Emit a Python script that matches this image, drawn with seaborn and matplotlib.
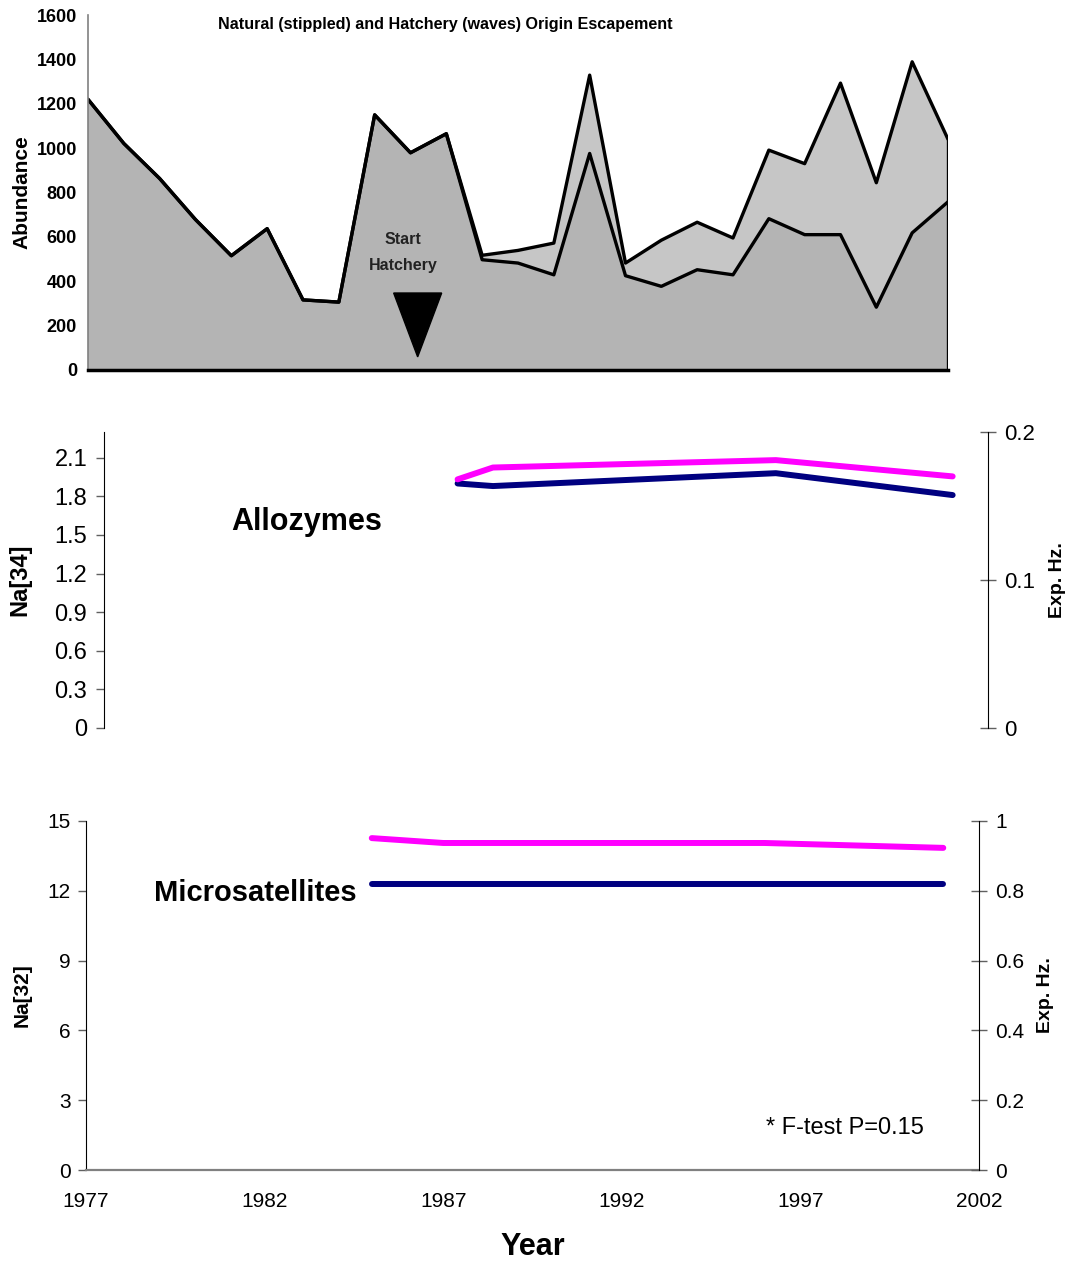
import matplotlib
matplotlib.use("Agg")
import matplotlib.pyplot as plt
from matplotlib.patches import Polygon
import numpy as np
import pandas as pd
import seaborn as sns

# ---------------- data ----------------
years = list(range(1977, 2002))
natural = [1220, 1021, 863, 678, 515, 637, 316, 306, 1150, 979, 1065,
           497, 482, 429, 976, 425, 377, 452, 429, 682, 610, 610, 283, 618, 758]
total = [1220, 1021, 863, 678, 515, 637, 316, 306, 1150, 979, 1065,
         517, 539, 572, 1329, 482, 585, 666, 595, 991, 930, 1293, 844, 1389, 1040]
hatchery = [t - n for t, n in zip(total, natural)]

allo_years = [1987, 1988, 1996, 2001]
allo_na = [1.90, 1.88, 1.98, 1.81]
allo_hz = [0.168, 0.176, 0.181, 0.170]

micro_years = [1985, 1987, 1996, 2001]
micro_na = [12.3, 12.3, 12.3, 12.3]
micro_hz = [0.951, 0.937, 0.937, 0.923]

hatch_start = 1986.2

# ---------------- style ----------------
sns.set_style("white")
plt.rcParams['font.family'] = ['Liberation Sans', 'DejaVu Sans']
for k in ['text.color', 'axes.labelcolor', 'xtick.color', 'ytick.color']:
    plt.rcParams[k] = 'black'

PINK = '#FF00FF'
NAVY = '#000080'
LW = 4.3

fig = plt.figure(figsize=(10.70, 12.62), dpi=100)
W, H = 1070.0, 1262.0

def pos(l, t, r, b):
    return [l / W, 1 - b / H, (r - l) / W, (b - t) / H]

def center_ylabel(ax, x):
    ax.yaxis.label.set_va('center')
    ax.yaxis.set_label_coords(x, 0.5)

# ---------------- top panel ----------------
ax0 = fig.add_axes(pos(88, 15, 948, 370))
df_top = pd.DataFrame({'Year': years, 'Natural': natural, 'Hatchery': hatchery})
df_top['Total'] = df_top['Natural'] + df_top['Hatchery']
ax0.fill_between(df_top['Year'], df_top['Natural'], df_top['Total'],
                 facecolor='#c6c6c6', edgecolor='none')
ax0.fill_between(df_top['Year'], 0, df_top['Natural'],
                 facecolor='#b4b4b4', edgecolor='none')
sns.lineplot(data=df_top, x='Year', y='Total', ax=ax0, color='black', lw=2.4)
sns.lineplot(data=df_top, x='Year', y='Natural', ax=ax0, color='black', lw=2.4)
ax0.plot([years[-1], years[-1]], [0, total[-1]], color='black', lw=2.4)
ax0.set_xlim(1977, 2001)
ax0.set_ylim(0, 1600)
ax0.set_yticks(range(0, 1601, 200))
ax0.set_xticks([])
for s in ['top', 'right']:
    ax0.spines[s].set_visible(False)
ax0.spines['left'].set_color('#808080')
ax0.spines['left'].set_linewidth(1.2)
ax0.spines['bottom'].set_color('black')
ax0.spines['bottom'].set_linewidth(2.5)
ax0.tick_params(axis='y', direction='out', length=5, width=1, color='#808080', pad=3)
for lab in ax0.get_yticklabels():
    lab.set_fontweight('bold')
    lab.set_fontsize(13)
ax0.set_xlabel('')
ax0.set_ylabel('Abundance', fontsize=15, fontweight='bold')
center_ylabel(ax0, -0.077)
ax0.text(1986.96, 1559, 'Natural (stippled) and Hatchery (waves) Origin Escapement',
         ha='center', va='center', fontsize=11.6, fontweight='bold')
ax0.text(hatch_start - 0.4, 586, 'Start', ha='center', va='center',
         fontsize=11.5, fontweight='bold', color='#222222')
ax0.text(hatch_start - 0.4, 473, 'Hatchery', ha='center', va='center',
         fontsize=11.5, fontweight='bold', color='#222222')
ax0.add_patch(Polygon([[hatch_start - 0.67, 347], [hatch_start + 0.67, 347],
                       [hatch_start, 59]], closed=True, facecolor='black',
                      edgecolor='black'))

# ---------------- middle panel (Allozymes) ----------------
ax1 = fig.add_axes(pos(104, 432, 988, 728))
ax1r = ax1.twinx()
df_allo = pd.DataFrame({'Year': allo_years, 'Na': allo_na, 'Hz': allo_hz})
sns.lineplot(data=df_allo, x='Year', y='Na', ax=ax1, color=NAVY, lw=LW,
             solid_capstyle='round')
sns.lineplot(data=df_allo, x='Year', y='Hz', ax=ax1r, color=PINK, lw=LW,
             solid_capstyle='round')
ax1.set_xlim(1977, 2002)
ax1.set_ylim(0, 2.3)
ax1r.set_ylim(0, 0.2)
ax1.set_yticks(np.arange(0, 2.2, 0.3))
ax1.set_yticklabels(['0', '0.3', '0.6', '0.9', '1.2', '1.5', '1.8', '2.1'])
ax1r.set_yticks([0, 0.1, 0.2])
ax1r.set_yticklabels(['0', '0.1', '0.2'])
ax1.set_xticks([])
for a in (ax1, ax1r):
    for s in ['top', 'bottom']:
        a.spines[s].set_visible(False)
ax1.spines['right'].set_visible(False)
ax1r.spines['left'].set_visible(False)
ax1.spines['left'].set_color('black')
ax1r.spines['right'].set_color('black')
ax1.tick_params(axis='y', direction='out', length=6, width=1, color='#606060',
                labelsize=17, pad=6)
ax1r.tick_params(axis='y', direction='inout', length=11, width=1, color='#606060',
                 labelsize=16, pad=6)
ax1.set_xlabel('')
ax1.set_ylabel('Na[34]', fontsize=17, fontweight='bold')
center_ylabel(ax1, -0.095)
ax1r.set_ylabel('Exp. Hz.', fontsize=14, fontweight='bold')
center_ylabel(ax1r, 1.079)
ax1.text(1982.74, 1.60, 'Allozymes', ha='center', va='center',
         fontsize=22, fontweight='bold')

# ---------------- bottom panel (Microsatellites) ----------------
ax2 = fig.add_axes(pos(86, 821, 979, 1170))
ax2r = ax2.twinx()
df_micro = pd.DataFrame({'Year': micro_years, 'Na': micro_na, 'Hz': micro_hz})
sns.lineplot(data=df_micro, x='Year', y='Na', ax=ax2, color=NAVY, lw=LW,
             solid_capstyle='round')
sns.lineplot(data=df_micro, x='Year', y='Hz', ax=ax2r, color=PINK, lw=LW,
             solid_capstyle='round')
ax2.set_xlim(1977, 2002)
ax2.set_ylim(0, 15)
ax2r.set_ylim(0, 1)
ax2.set_yticks(range(0, 16, 3))
ax2r.set_yticks([0, 0.2, 0.4, 0.6, 0.8, 1.0])
ax2r.set_yticklabels(['0', '0.2', '0.4', '0.6', '0.8', '1'])
ax2.set_xticks(range(1977, 2003, 5))
for a in (ax2, ax2r):
    a.spines['top'].set_visible(False)
ax2.spines['right'].set_visible(False)
ax2r.spines['left'].set_visible(False)
ax2r.spines['bottom'].set_visible(False)
ax2.spines['left'].set_color('black')
ax2r.spines['right'].set_color('black')
ax2.spines['bottom'].set_color('#808080')
ax2.spines['bottom'].set_linewidth(1.6)
ax2.tick_params(axis='y', direction='out', length=6, width=1, color='#606060',
                labelsize=15, pad=5)
ax2.tick_params(axis='x', direction='out', length=6, width=1, color='#606060',
                labelsize=15, pad=10)
ax2r.tick_params(axis='y', direction='inout', length=11, width=1, color='#606060',
                 labelsize=15, pad=6)
ax2.set_xlabel('Year', fontsize=22, fontweight='bold')
ax2.xaxis.label.set_va('center')
ax2.xaxis.set_label_coords(0.5006, -0.22)
ax2.set_ylabel('Na[32]', fontsize=15, fontweight='bold')
center_ylabel(ax2, -0.0717)
ax2r.set_ylabel('Exp. Hz.', fontsize=14, fontweight='bold')
center_ylabel(ax2r, 1.075)
ax2.text(1981.73, 11.9, 'Microsatellites', ha='center', va='center',
         fontsize=21, fontweight='bold')
ax2.text(1998.25, 1.8, '* F-test P=0.15', ha='center', va='center', fontsize=17)

fig.savefig('out.png', dpi=100)
